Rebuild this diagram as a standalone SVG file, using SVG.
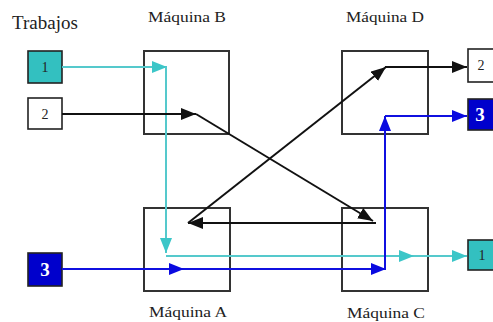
<svg xmlns="http://www.w3.org/2000/svg" width="493" height="322" viewBox="0 0 493 322">
<style>
.mach{fill:none;stroke:#333;stroke-width:2}
.lbl{font-family:"Liberation Serif","Times New Roman",serif;font-size:15px;fill:#222;text-anchor:middle}
.job{stroke:#222;stroke-width:1.6}
.jt{font-family:"Liberation Serif","Times New Roman",serif;font-size:14px;fill:#222;text-anchor:middle}
.jb{font-family:"Liberation Serif","Times New Roman",serif;font-size:19px;font-weight:bold;fill:#fff;text-anchor:middle}
.k{fill:none;stroke:#111;stroke-width:2}
.t{fill:none;stroke:#55c9cc;stroke-width:2}
.b{fill:none;stroke:#1010e0;stroke-width:2}
</style>
<defs>
<marker id="ak" markerUnits="userSpaceOnUse" markerWidth="16" markerHeight="12" refX="15" refY="6" orient="auto"><path d="M0,0 L15,6 L0,12 z" fill="#111"/></marker>
<marker id="at" markerUnits="userSpaceOnUse" markerWidth="16" markerHeight="12" refX="15" refY="6" orient="auto"><path d="M0,0 L15,6 L0,12 z" fill="#3cc6c8"/></marker>
<marker id="ab" markerUnits="userSpaceOnUse" markerWidth="16" markerHeight="12" refX="15" refY="6" orient="auto"><path d="M0,0 L15,6 L0,12 z" fill="#0a0ae0"/></marker>
</defs>
<rect width="493" height="322" fill="#fff"/>
<text x="12" y="29" font-family="Liberation Serif,Times New Roman,serif" font-size="19" fill="#222">Trabajos</text>

<g id="maquinaB"><rect class="mach" x="144" y="51" width="85" height="83"/><text class="lbl" x="187" y="22" textLength="78" lengthAdjust="spacingAndGlyphs">Máquina B</text></g>
<g id="maquinaD"><rect class="mach" x="342" y="51" width="86" height="83"/><text class="lbl" x="385" y="22" textLength="78" lengthAdjust="spacingAndGlyphs">Máquina D</text></g>
<g id="maquinaA"><rect class="mach" x="144" y="208" width="86" height="83"/><text class="lbl" x="188" y="317" textLength="78" lengthAdjust="spacingAndGlyphs">Máquina A</text></g>
<g id="maquinaC"><rect class="mach" x="342" y="208" width="86" height="83"/><text class="lbl" x="386" y="318" textLength="78" lengthAdjust="spacingAndGlyphs">Máquina C</text></g>

<g id="in1"><rect class="job" x="28" y="51" width="34" height="32" fill="#33c0c0"/><text class="jt" x="45" y="72">1</text></g>
<g id="in2"><rect class="job" x="28" y="98" width="34" height="31" fill="#fff"/><text class="jt" x="45" y="119">2</text></g>
<g id="in3"><rect class="job" x="28" y="253" width="34" height="33" fill="#0000cc"/><text class="jb" x="45" y="276">3</text></g>
<g id="out2"><rect class="job" x="468" y="49" width="34" height="33" fill="#fff"/><text class="jt" x="481" y="70">2</text></g>
<g id="out3"><rect class="job" x="468" y="99" width="34" height="31" fill="#0000cc"/><text class="jb" x="480" y="121">3</text></g>
<g id="out1"><rect class="job" x="468" y="240" width="34" height="30" fill="#33c0c0"/><text class="jt" x="482" y="260">1</text></g>

<g id="connectors">
<path class="t" d="M62,67 H167" marker-end="url(#at)"/>
<path class="t" d="M166,67 V253" marker-end="url(#at)"/>
<path class="t" d="M166,256 H414" marker-end="url(#at)"/>
<path class="t" d="M414,256 H467" marker-end="url(#at)"/>
<path class="k" d="M62,114 H196" marker-end="url(#ak)"/>
<path class="k" d="M196,114 L373,221" marker-end="url(#ak)"/>
<path class="k" d="M376,223 H188" marker-end="url(#ak)"/>
<path class="k" d="M188,223 L386,67" marker-end="url(#ak)"/>
<path class="k" d="M385,67 H467" marker-end="url(#ak)"/>
<path class="b" d="M62,269 H184" marker-end="url(#ab)"/>
<path class="b" d="M184,269 H386" marker-end="url(#ab)"/>
<path class="b" d="M385,269 V116" marker-end="url(#ab)"/>
<path class="b" d="M385,116 H467" marker-end="url(#ab)"/>
</g>
</svg>
